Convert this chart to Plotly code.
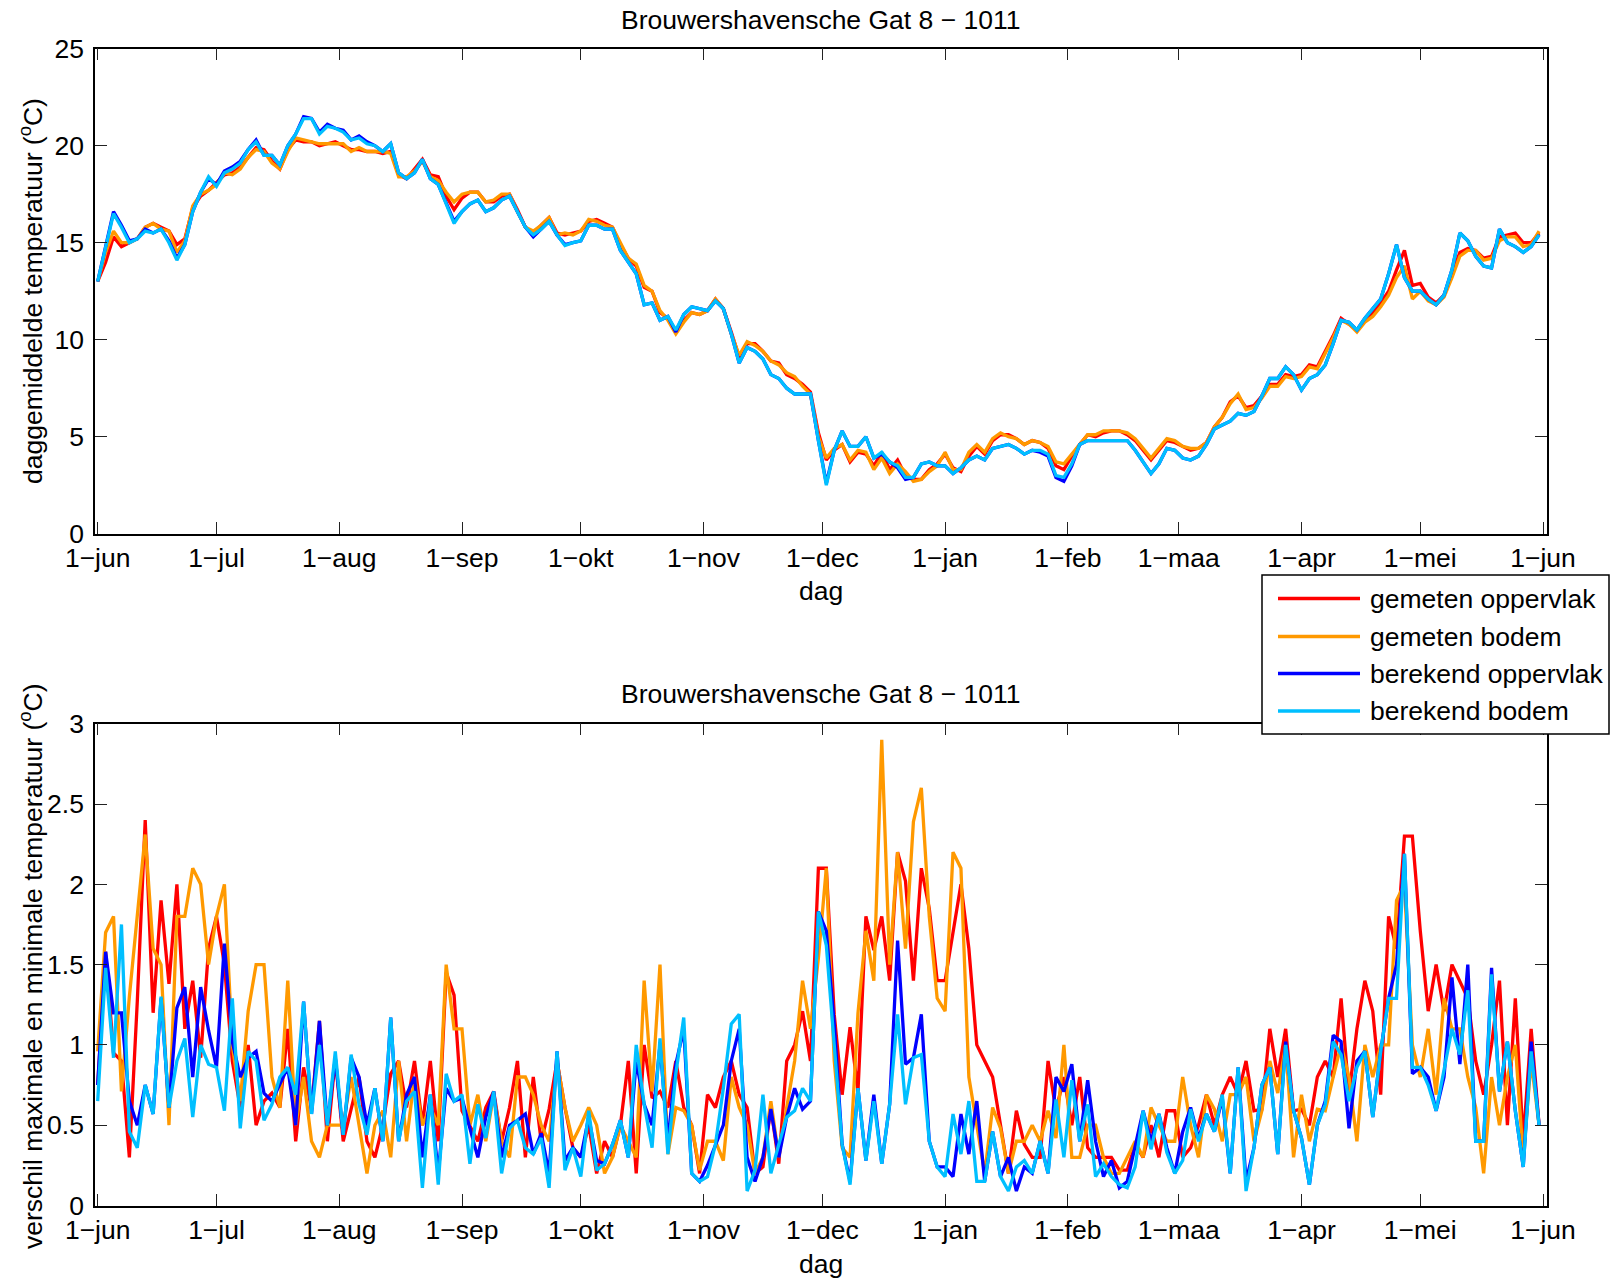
import pandas as pd
import plotly.graph_objects as go

# ---------------------------------------------------------------------------
# Data: Brouwershavensche Gat 8 - 1011, one value per two days from 1 June
# ---------------------------------------------------------------------------
START = "2006-06-01"
STEP = "2D"

maand_ticks = ["2006-06-01", "2006-07-01", "2006-08-01", "2006-09-01", "2006-10-01",
               "2006-11-01", "2006-12-01", "2007-01-01", "2007-02-01", "2007-03-01",
               "2007-04-01", "2007-05-01", "2007-06-01"]
maand_labels = ["1−jun", "1−jul", "1−aug", "1−sep", "1−okt", "1−nov", "1−dec",
                "1−jan", "1−feb", "1−maa", "1−apr", "1−mei", "1−jun"]

series_names = ["gemeten oppervlak", "gemeten bodem", "berekend oppervlak", "berekend bodem"]
series_colors = ["#FF0000", "#FF9900", "#0000FF", "#00BFFF"]

# daily mean temperature (degC)
temp_gemeten_oppervlak = [
    13.0, 14.0, 15.3, 14.8, 15.0, 15.2, 15.8, 16.0, 15.8, 15.6,
    14.9, 15.2, 16.8, 17.4, 17.7, 18.1, 18.5, 18.6, 18.9, 19.4,
    19.9, 19.8, 19.2, 18.8, 19.8, 20.3, 20.2, 20.2, 20.0, 20.1,
    20.2, 20.0, 19.8, 19.8, 19.7, 19.7, 19.6, 19.7, 18.5, 18.3,
    18.8, 19.3, 18.5, 18.4, 17.4, 16.7, 17.3, 17.6, 17.6, 17.1,
    17.1, 17.4, 17.5, 16.7, 15.8, 15.5, 15.9, 16.3, 15.5, 15.4,
    15.5, 15.6, 16.1, 16.2, 16.0, 15.8, 14.9, 14.2, 13.8, 12.7,
    12.5, 11.4, 11.1, 10.4, 11.0, 11.4, 11.3, 11.5, 12.1, 11.6,
    10.4, 9.1, 9.8, 9.8, 9.4, 8.9, 8.8, 8.2, 8.0, 7.7,
    7.3, 5.2, 3.8, 4.3, 4.6, 3.7, 4.2, 4.1, 3.5, 4.2,
    3.3, 3.8, 3.0, 2.8, 2.8, 3.3, 3.6, 4.1, 3.4, 3.2,
    4.0, 4.5, 4.1, 4.8, 5.1, 5.1, 4.9, 4.6, 4.8, 4.7,
    4.4, 3.5, 3.3, 4.0, 4.6, 5.1, 5.0, 5.2, 5.3, 5.3,
    5.1, 4.8, 4.3, 3.8, 4.3, 4.8, 4.7, 4.5, 4.3, 4.4,
    4.7, 5.5, 6.0, 6.8, 7.1, 6.5, 6.6, 7.1, 7.7, 7.7,
    8.2, 8.1, 8.2, 8.7, 8.6, 9.4, 10.2, 11.1, 10.8, 10.5,
    11.0, 11.4, 11.9, 12.5, 13.6, 14.6, 12.8, 12.9, 12.2, 11.9,
    12.3, 13.4, 14.5, 14.7, 14.6, 14.2, 14.3, 15.3, 15.4, 15.5,
    15.0, 15.0, 15.5,
]
temp_gemeten_bodem = [
    13.0, 14.5, 15.6, 15.0, 15.0, 15.2, 15.8, 16.0, 15.7, 15.6,
    14.5, 15.1, 16.9, 17.5, 17.7, 18.0, 18.6, 18.5, 18.8, 19.4,
    19.8, 19.7, 19.1, 18.8, 19.7, 20.4, 20.3, 20.2, 20.1, 20.1,
    20.1, 20.1, 19.7, 19.9, 19.7, 19.7, 19.7, 19.6, 18.4, 18.4,
    18.7, 19.2, 18.4, 18.2, 17.6, 17.1, 17.5, 17.6, 17.6, 17.1,
    17.2, 17.5, 17.5, 16.6, 15.8, 15.6, 15.9, 16.3, 15.4, 15.5,
    15.4, 15.6, 16.2, 16.1, 15.9, 15.8, 15.0, 14.2, 13.9, 12.8,
    12.5, 11.5, 11.0, 10.3, 10.9, 11.4, 11.3, 11.5, 12.1, 11.6,
    10.3, 9.2, 9.9, 9.7, 9.4, 8.9, 8.7, 8.3, 8.1, 7.6,
    7.2, 5.0, 3.9, 4.4, 4.6, 3.8, 4.3, 4.2, 3.3, 3.9,
    3.1, 3.6, 3.2, 2.7, 2.8, 3.2, 3.5, 4.2, 3.3, 3.3,
    4.2, 4.6, 4.2, 4.9, 5.2, 5.0, 4.9, 4.6, 4.8, 4.7,
    4.5, 3.7, 3.6, 4.1, 4.6, 5.1, 5.1, 5.3, 5.3, 5.3,
    5.2, 4.9, 4.4, 3.9, 4.4, 4.9, 4.8, 4.5, 4.4, 4.4,
    4.7, 5.5, 6.0, 6.7, 7.2, 6.4, 6.5, 7.0, 7.6, 7.6,
    8.1, 8.0, 8.1, 8.6, 8.5, 9.3, 10.1, 11.0, 10.8, 10.4,
    10.9, 11.2, 11.7, 12.3, 13.2, 13.8, 12.1, 12.5, 12.0, 11.8,
    12.2, 13.2, 14.3, 14.6, 14.6, 14.1, 14.2, 15.1, 15.3, 15.3,
    14.8, 14.9, 15.6,
]
temp_berekend_oppervlak = [
    13.0, 14.9, 16.6, 15.9, 15.1, 15.2, 15.7, 15.5, 15.7, 15.1,
    14.2, 14.9, 16.6, 17.6, 18.3, 18.0, 18.7, 18.9, 19.2, 19.8,
    20.3, 19.5, 19.5, 19.0, 20.0, 20.6, 21.5, 21.4, 20.7, 21.1,
    20.9, 20.8, 20.3, 20.5, 20.2, 20.0, 19.7, 20.1, 18.6, 18.3,
    18.6, 19.3, 18.3, 18.0, 17.0, 16.1, 16.6, 17.0, 17.2, 16.6,
    16.8, 17.2, 17.4, 16.6, 15.8, 15.3, 15.7, 16.1, 15.4, 14.9,
    15.0, 15.1, 15.9, 15.9, 15.7, 15.7, 14.6, 14.0, 13.4, 11.8,
    11.9, 11.0, 11.2, 10.4, 11.3, 11.7, 11.6, 11.5, 12.0, 11.6,
    10.3, 8.8, 9.6, 9.4, 9.0, 8.2, 8.0, 7.5, 7.2, 7.2,
    7.2, 4.8, 2.6, 4.3, 5.3, 4.5, 4.5, 5.0, 3.9, 4.1,
    3.7, 3.4, 2.8, 2.9, 3.6, 3.7, 3.5, 3.5, 3.1, 3.4,
    3.8, 4.0, 3.8, 4.4, 4.5, 4.6, 4.4, 4.1, 4.3, 4.2,
    4.0, 2.9, 2.7, 3.5, 4.6, 4.8, 4.8, 4.8, 4.8, 4.8,
    4.8, 4.3, 3.7, 3.1, 3.6, 4.4, 4.3, 3.9, 3.8, 4.0,
    4.6, 5.4, 5.6, 5.8, 6.2, 6.1, 6.3, 7.1, 8.0, 8.0,
    8.6, 8.2, 7.4, 8.0, 8.2, 8.7, 9.8, 11.0, 10.9, 10.5,
    11.1, 11.6, 12.1, 13.4, 14.9, 13.2, 12.5, 12.5, 12.1, 11.8,
    12.3, 13.6, 15.5, 15.1, 14.3, 13.8, 13.7, 15.7, 15.0, 14.8,
    14.5, 14.8, 15.4,
]
temp_berekend_bodem = [
    13.0, 14.8, 16.5, 15.8, 15.0, 15.2, 15.6, 15.5, 15.7, 15.0,
    14.1, 14.9, 16.6, 17.6, 18.4, 17.9, 18.6, 18.8, 19.1, 19.8,
    20.2, 19.5, 19.5, 19.0, 20.0, 20.6, 21.4, 21.4, 20.6, 21.0,
    20.9, 20.7, 20.3, 20.4, 20.1, 20.0, 19.7, 20.1, 18.6, 18.3,
    18.6, 19.3, 18.3, 18.0, 17.0, 16.0, 16.6, 17.0, 17.2, 16.6,
    16.8, 17.2, 17.4, 16.6, 15.8, 15.4, 15.7, 16.1, 15.4, 14.85,
    15.0, 15.1, 15.9, 15.9, 15.7, 15.7, 14.6, 14.0, 13.4, 11.8,
    11.9, 11.0, 11.2, 10.5, 11.3, 11.7, 11.6, 11.5, 12.0, 11.6,
    10.3, 8.8, 9.6, 9.4, 9.0, 8.2, 8.0, 7.5, 7.2, 7.2,
    7.2, 4.8, 2.5, 4.3, 5.3, 4.5, 4.5, 5.0, 3.9, 4.2,
    3.7, 3.5, 2.9, 2.9, 3.6, 3.7, 3.5, 3.5, 3.1, 3.4,
    3.8, 4.0, 3.8, 4.4, 4.5, 4.6, 4.4, 4.1, 4.3, 4.3,
    4.1, 3.0, 2.9, 3.6, 4.6, 4.8, 4.8, 4.8, 4.8, 4.8,
    4.8, 4.3, 3.7, 3.1, 3.6, 4.4, 4.3, 3.9, 3.8, 4.0,
    4.6, 5.4, 5.6, 5.8, 6.2, 6.1, 6.3, 7.1, 8.0, 8.0,
    8.6, 8.2, 7.4, 8.0, 8.2, 8.7, 9.8, 11.0, 10.9, 10.5,
    11.1, 11.6, 12.1, 13.4, 14.9, 13.2, 12.5, 12.5, 12.1, 11.8,
    12.3, 13.6, 15.5, 15.1, 14.3, 13.8, 13.7, 15.7, 15.0, 14.8,
    14.5, 14.8, 15.4,
]

# difference between daily maximum and minimum temperature (degC)
bereik_gemeten_oppervlak = [
    0.75, 1.58, 0.95, 0.9, 0.3, 1.27, 2.4, 1.2, 1.9, 1.38,
    2.0, 1.1, 1.4, 0.92, 1.6, 1.8, 1.5, 0.9, 0.61, 1.0,
    0.5, 0.65, 0.7, 0.61, 1.1, 0.4, 0.86, 0.6, 1.15, 0.4,
    0.92, 0.4, 0.6, 0.8, 0.4, 0.3, 0.5, 0.82, 0.9, 0.61,
    0.9, 0.5, 0.9, 0.4, 1.45, 1.31, 0.59, 0.5, 0.4, 0.61,
    0.71, 0.4, 0.61, 0.9, 0.3, 0.8, 0.4, 0.6, 0.9, 0.61,
    0.36, 0.3, 0.5, 0.2, 0.4, 0.3, 0.5, 0.9, 0.2, 1.0,
    0.67, 0.71, 0.61, 0.9, 0.61, 0.5, 0.2, 0.69, 0.61, 0.8,
    0.9, 0.69, 0.61, 0.2, 0.24, 0.61, 0.26, 0.9, 1.0, 1.21,
    0.9, 2.1, 2.1, 1.19, 0.69, 1.11, 0.71, 1.8, 1.59, 1.8,
    1.4, 2.2, 2.02, 1.4, 2.1, 1.85, 1.4, 1.4, 1.71, 2.0,
    1.6, 1.0, 0.9, 0.8, 0.5, 0.2, 0.59, 0.38, 0.3, 0.3,
    0.9, 0.59, 0.8, 0.5, 0.8, 0.36, 0.3, 0.3, 0.3, 0.22,
    0.22, 0.38, 0.3, 0.5, 0.3, 0.59, 0.59, 0.3, 0.36, 0.5,
    0.69, 0.5, 0.69, 0.8, 0.69, 0.9, 0.59, 0.6, 1.1, 0.8,
    1.1, 0.59, 0.6, 0.5, 0.8, 0.9, 0.8, 1.29, 0.69, 1.1,
    1.4, 1.21, 0.69, 1.8, 1.6, 2.3, 2.3, 1.71, 1.21, 1.5,
    1.21, 1.5, 1.4, 1.29, 0.9, 0.69, 1.0, 1.4, 0.5, 1.29,
    0.4, 1.1, 0.5,
]
bereik_gemeten_bodem = [
    0.96, 1.7, 1.8, 0.71, 1.3, 1.8, 2.31, 1.6, 1.5, 0.5,
    1.8, 1.8, 2.1, 2.0, 1.5, 1.8, 2.0, 1.0, 0.65, 1.21,
    1.5, 1.5, 0.8, 0.61, 1.4, 0.5, 0.8, 0.4, 0.3, 0.5,
    0.5, 0.5, 0.8, 0.5, 0.2, 0.5, 0.59, 0.3, 0.9, 0.4,
    0.8, 0.5, 0.61, 0.5, 1.5, 1.1, 1.1, 0.5, 0.69, 0.4,
    0.69, 0.4, 0.3, 0.8, 0.8, 0.69, 0.5, 0.4, 0.9, 0.61,
    0.4, 0.5, 0.61, 0.5, 0.2, 0.3, 0.5, 0.4, 0.3, 1.4,
    0.71, 1.5, 0.32, 0.61, 0.59, 0.5, 0.22, 0.4, 0.4, 0.28,
    0.8, 0.61, 0.5, 0.2, 0.3, 0.65, 0.3, 0.61, 0.9, 1.4,
    1.1, 1.54, 2.1, 0.9, 0.36, 0.3, 1.2, 1.71, 1.4, 2.9,
    1.5, 2.2, 1.6, 2.39, 2.6, 1.8, 1.29, 1.21, 2.2, 2.1,
    0.8, 0.5, 0.2, 0.61, 0.48, 0.2, 0.4, 0.4, 0.5, 0.4,
    0.59, 0.42, 1.0, 0.3, 0.3, 0.5, 0.5, 0.3, 0.2, 0.2,
    0.3, 0.4, 0.3, 0.61, 0.5, 0.4, 0.4, 0.8, 0.5, 0.3,
    0.69, 0.6, 0.4, 0.69, 0.69, 0.8, 0.4, 0.59, 0.9, 0.7,
    1.0, 0.3, 0.69, 0.4, 0.6, 0.59, 0.8, 1.0, 0.8, 0.4,
    1.0, 0.8, 1.0, 1.0, 1.9, 2.0, 1.0, 0.8, 1.1, 0.69,
    1.29, 1.1, 1.1, 0.8, 0.61, 0.2, 0.8, 0.5, 0.8, 1.0,
    0.3, 0.9, 0.5,
]
bereik_berekend_oppervlak = [
    0.75, 1.58, 1.2, 1.2, 0.65, 0.5, 0.75, 0.57, 1.29, 0.61,
    1.23, 1.36, 0.8, 1.36, 1.09, 0.86, 1.63, 1.02, 0.8, 0.92,
    0.96, 0.7, 0.65, 0.75, 0.86, 0.5, 1.27, 0.57, 1.15, 0.5,
    0.92, 0.44, 0.92, 0.8, 0.5, 0.73, 0.4, 1.17, 0.4, 0.69,
    0.8, 0.3, 0.69, 0.2, 0.73, 0.65, 0.67, 0.48, 0.3, 0.55,
    0.71, 0.3, 0.5, 0.53, 0.57, 0.32, 0.45, 0.2, 0.96, 0.28,
    0.36, 0.3, 0.55, 0.28, 0.26, 0.38, 0.53, 0.3, 0.9, 0.63,
    0.5, 1.0, 0.4, 0.88, 1.1, 0.2, 0.15, 0.25, 0.38, 0.5,
    0.9, 1.1, 0.3, 0.15, 0.3, 0.6, 0.3, 0.55, 0.73, 0.6,
    0.65, 1.83, 1.71, 1.13, 0.38, 0.15, 0.73, 0.28, 0.69, 0.26,
    0.63, 1.65, 0.88, 0.92, 1.19, 0.4, 0.24, 0.24, 0.18, 0.57,
    0.32, 0.65, 0.15, 0.46, 0.18, 0.3, 0.09, 0.24, 0.2, 0.4,
    0.2, 0.8, 0.71, 0.88, 0.4, 0.78, 0.4, 0.18, 0.28, 0.11,
    0.15, 0.36, 0.59, 0.4, 0.57, 0.36, 0.2, 0.46, 0.61, 0.42,
    0.57, 0.46, 0.67, 0.2, 0.86, 0.15, 0.36, 0.75, 0.86, 0.32,
    1.02, 0.59, 0.42, 0.13, 0.5, 0.65, 1.06, 1.02, 0.48, 0.9,
    0.96, 0.55, 0.96, 1.29, 1.5, 2.19, 0.82, 0.86, 0.8, 0.59,
    0.8, 1.42, 0.88, 1.5, 0.4, 0.4, 1.48, 0.71, 1.02, 0.59,
    0.24, 1.02, 0.5,
]
bereik_berekend_bodem = [
    0.65, 1.48, 0.92, 1.75, 0.46, 0.36, 0.75, 0.57, 1.3, 0.61,
    0.9, 1.04, 0.55, 1.0, 0.88, 0.86, 0.59, 1.29, 0.48, 0.96,
    0.9, 0.53, 0.63, 0.8, 0.86, 0.69, 1.27, 0.57, 1.0, 0.5,
    0.96, 0.44, 0.94, 0.63, 0.44, 0.73, 0.4, 1.17, 0.4, 0.65,
    0.71, 0.11, 0.69, 0.13, 0.82, 0.65, 0.69, 0.26, 0.63, 0.42,
    0.71, 0.2, 0.48, 0.53, 0.36, 0.32, 0.42, 0.11, 0.96, 0.22,
    0.36, 0.18, 0.59, 0.22, 0.26, 0.38, 0.53, 0.3, 1.0, 0.63,
    0.36, 1.04, 0.32, 0.82, 1.17, 0.2, 0.15, 0.18, 0.38, 0.73,
    1.13, 1.19, 0.09, 0.22, 0.69, 0.2, 0.38, 0.55, 0.59, 0.73,
    0.65, 1.83, 1.62, 1.0, 0.38, 0.13, 0.73, 0.28, 0.65, 0.26,
    0.63, 1.19, 0.63, 0.92, 0.94, 0.4, 0.24, 0.18, 0.57, 0.32,
    0.65, 0.15, 0.15, 0.46, 0.18, 0.09, 0.24, 0.28, 0.2, 0.4,
    0.2, 0.66, 0.3, 0.78, 0.4, 0.63, 0.18, 0.26, 0.18, 0.13,
    0.11, 0.24, 0.59, 0.35, 0.57, 0.33, 0.2, 0.28, 0.6, 0.4,
    0.57, 0.46, 0.69, 0.2, 0.86, 0.09, 0.36, 0.75, 0.86, 0.32,
    1.0, 0.59, 0.42, 0.13, 0.5, 0.63, 1.02, 0.94, 0.65, 0.86,
    0.96, 0.55, 0.96, 1.29, 1.29, 2.19, 0.86, 0.86, 0.75, 0.59,
    0.84, 1.1, 0.94, 1.34, 0.4, 0.4, 1.44, 0.71, 1.02, 0.59,
    0.24, 0.96, 0.5,
]

titel = "Brouwershavensche Gat 8 − 1011"
x_label = "dag"
y_label_top = "daggemiddelde temperatuur (<sup>o</sup>C)"
y_label_bottom = "verschil maximale en minimale temperatuur (<sup>o</sup>C)"

# ---------------------------------------------------------------------------
# Figure
# ---------------------------------------------------------------------------
W, H = 1618, 1279
FONT = "Liberation Sans, Arial, Helvetica, sans-serif"
FS = 26.5


def px(x):
    return x / W


def py(y):
    return 1 - y / H


temp_series = [temp_gemeten_oppervlak, temp_gemeten_bodem,
               temp_berekend_oppervlak, temp_berekend_bodem]
range_series = [bereik_gemeten_oppervlak, bereik_gemeten_bodem,
                bereik_berekend_oppervlak, bereik_berekend_bodem]

fig = go.Figure()
for name, color, values in zip(series_names, series_colors, temp_series):
    dates = pd.date_range(START, periods=len(values), freq=STEP)
    fig.add_trace(go.Scatter(x=dates, y=values, mode="lines", name=name,
                             line=dict(color=color, width=3.3),
                             xaxis="x", yaxis="y", showlegend=False))
for name, color, values in zip(series_names, series_colors, range_series):
    dates = pd.date_range(START, periods=len(values), freq=STEP)
    fig.add_trace(go.Scatter(x=dates, y=values, mode="lines", name=name,
                             line=dict(color=color, width=3.3),
                             xaxis="x2", yaxis="y2", showlegend=False))

x_range = ["2006-05-31 07:40", "2007-06-02 00:00"]
axis_common = dict(showline=True, linecolor="black", linewidth=1.5, mirror="ticks",
                   ticks="inside", ticklen=12, tickwidth=1.2, tickcolor="#222222",
                   showgrid=False, zeroline=False, automargin=False,
                   tickfont=dict(family=FONT, size=FS, color="black"))

x_dom = [px(95), px(1547)]
xaxis_style = dict(axis_common, type="date", range=x_range, domain=x_dom,
                   tickmode="array", tickvals=maand_ticks, ticktext=maand_labels,
                   ticklabelstandoff=0)

fig.update_layout(
    template="none",
    width=W, height=H, autosize=False,
    margin=dict(l=0, r=0, t=0, b=0, pad=0),
    paper_bgcolor="white", plot_bgcolor="white",
    font=dict(family=FONT, size=FS, color="black"),
    showlegend=False,
    xaxis=dict(xaxis_style, anchor="y"),
    yaxis=dict(axis_common, domain=[py(533.7), py(48.7)], range=[0, 25],
               tickmode="array", tickvals=[0, 5, 10, 15, 20, 25],
               anchor="x", ticklabelstandoff=4),
    xaxis2=dict(xaxis_style, anchor="y2"),
    yaxis2=dict(axis_common, domain=[py(1205.5), py(723.7)], range=[0, 3],
                tickmode="array", tickvals=[0, 0.5, 1, 1.5, 2, 2.5, 3],
                ticktext=["0", "0.5", "1", "1.5", "2", "2.5", "3"],
                anchor="x2", ticklabelstandoff=4),
)

# titles and axis labels
x_mid = (95 + 1547) / 2 / W
annotations = [
    dict(text=titel, x=x_mid, y=py(19.5), xanchor="center", yanchor="middle"),
    dict(text=titel, x=x_mid, y=py(693.5), xanchor="center", yanchor="middle"),
    dict(text=x_label, x=x_mid, y=py(591), xanchor="center", yanchor="middle"),
    dict(text=x_label, x=x_mid, y=py(1264), xanchor="center", yanchor="middle"),
    dict(text=y_label_top, x=px(31), y=py(291), xanchor="center", yanchor="middle",
         textangle=-90),
    dict(text=y_label_bottom, x=px(31), y=py(966), xanchor="center", yanchor="middle",
         textangle=-90),
]

# legend box
shapes = [dict(type="rect", xref="paper", yref="paper", layer="above",
               x0=px(1262), x1=px(1609), y0=py(734), y1=py(575),
               line=dict(color="black", width=1.5), fillcolor="white")]
legend_rows = [598.5, 636.5, 673.5, 711]
for name, color, yrow in zip(series_names, series_colors, legend_rows):
    shapes.append(dict(type="line", xref="paper", yref="paper", layer="above",
                       x0=px(1278), x1=px(1360), y0=py(yrow), y1=py(yrow),
                       line=dict(color=color, width=3.3)))
    annotations.append(dict(text=name, x=px(1368), y=py(yrow), xanchor="left",
                            yanchor="middle"))

for a in annotations:
    a.update(xref="paper", yref="paper", showarrow=False,
             font=dict(family=FONT, size=FS, color="black"))

fig.update_layout(annotations=annotations, shapes=shapes)

fig.write_html("out.html")
